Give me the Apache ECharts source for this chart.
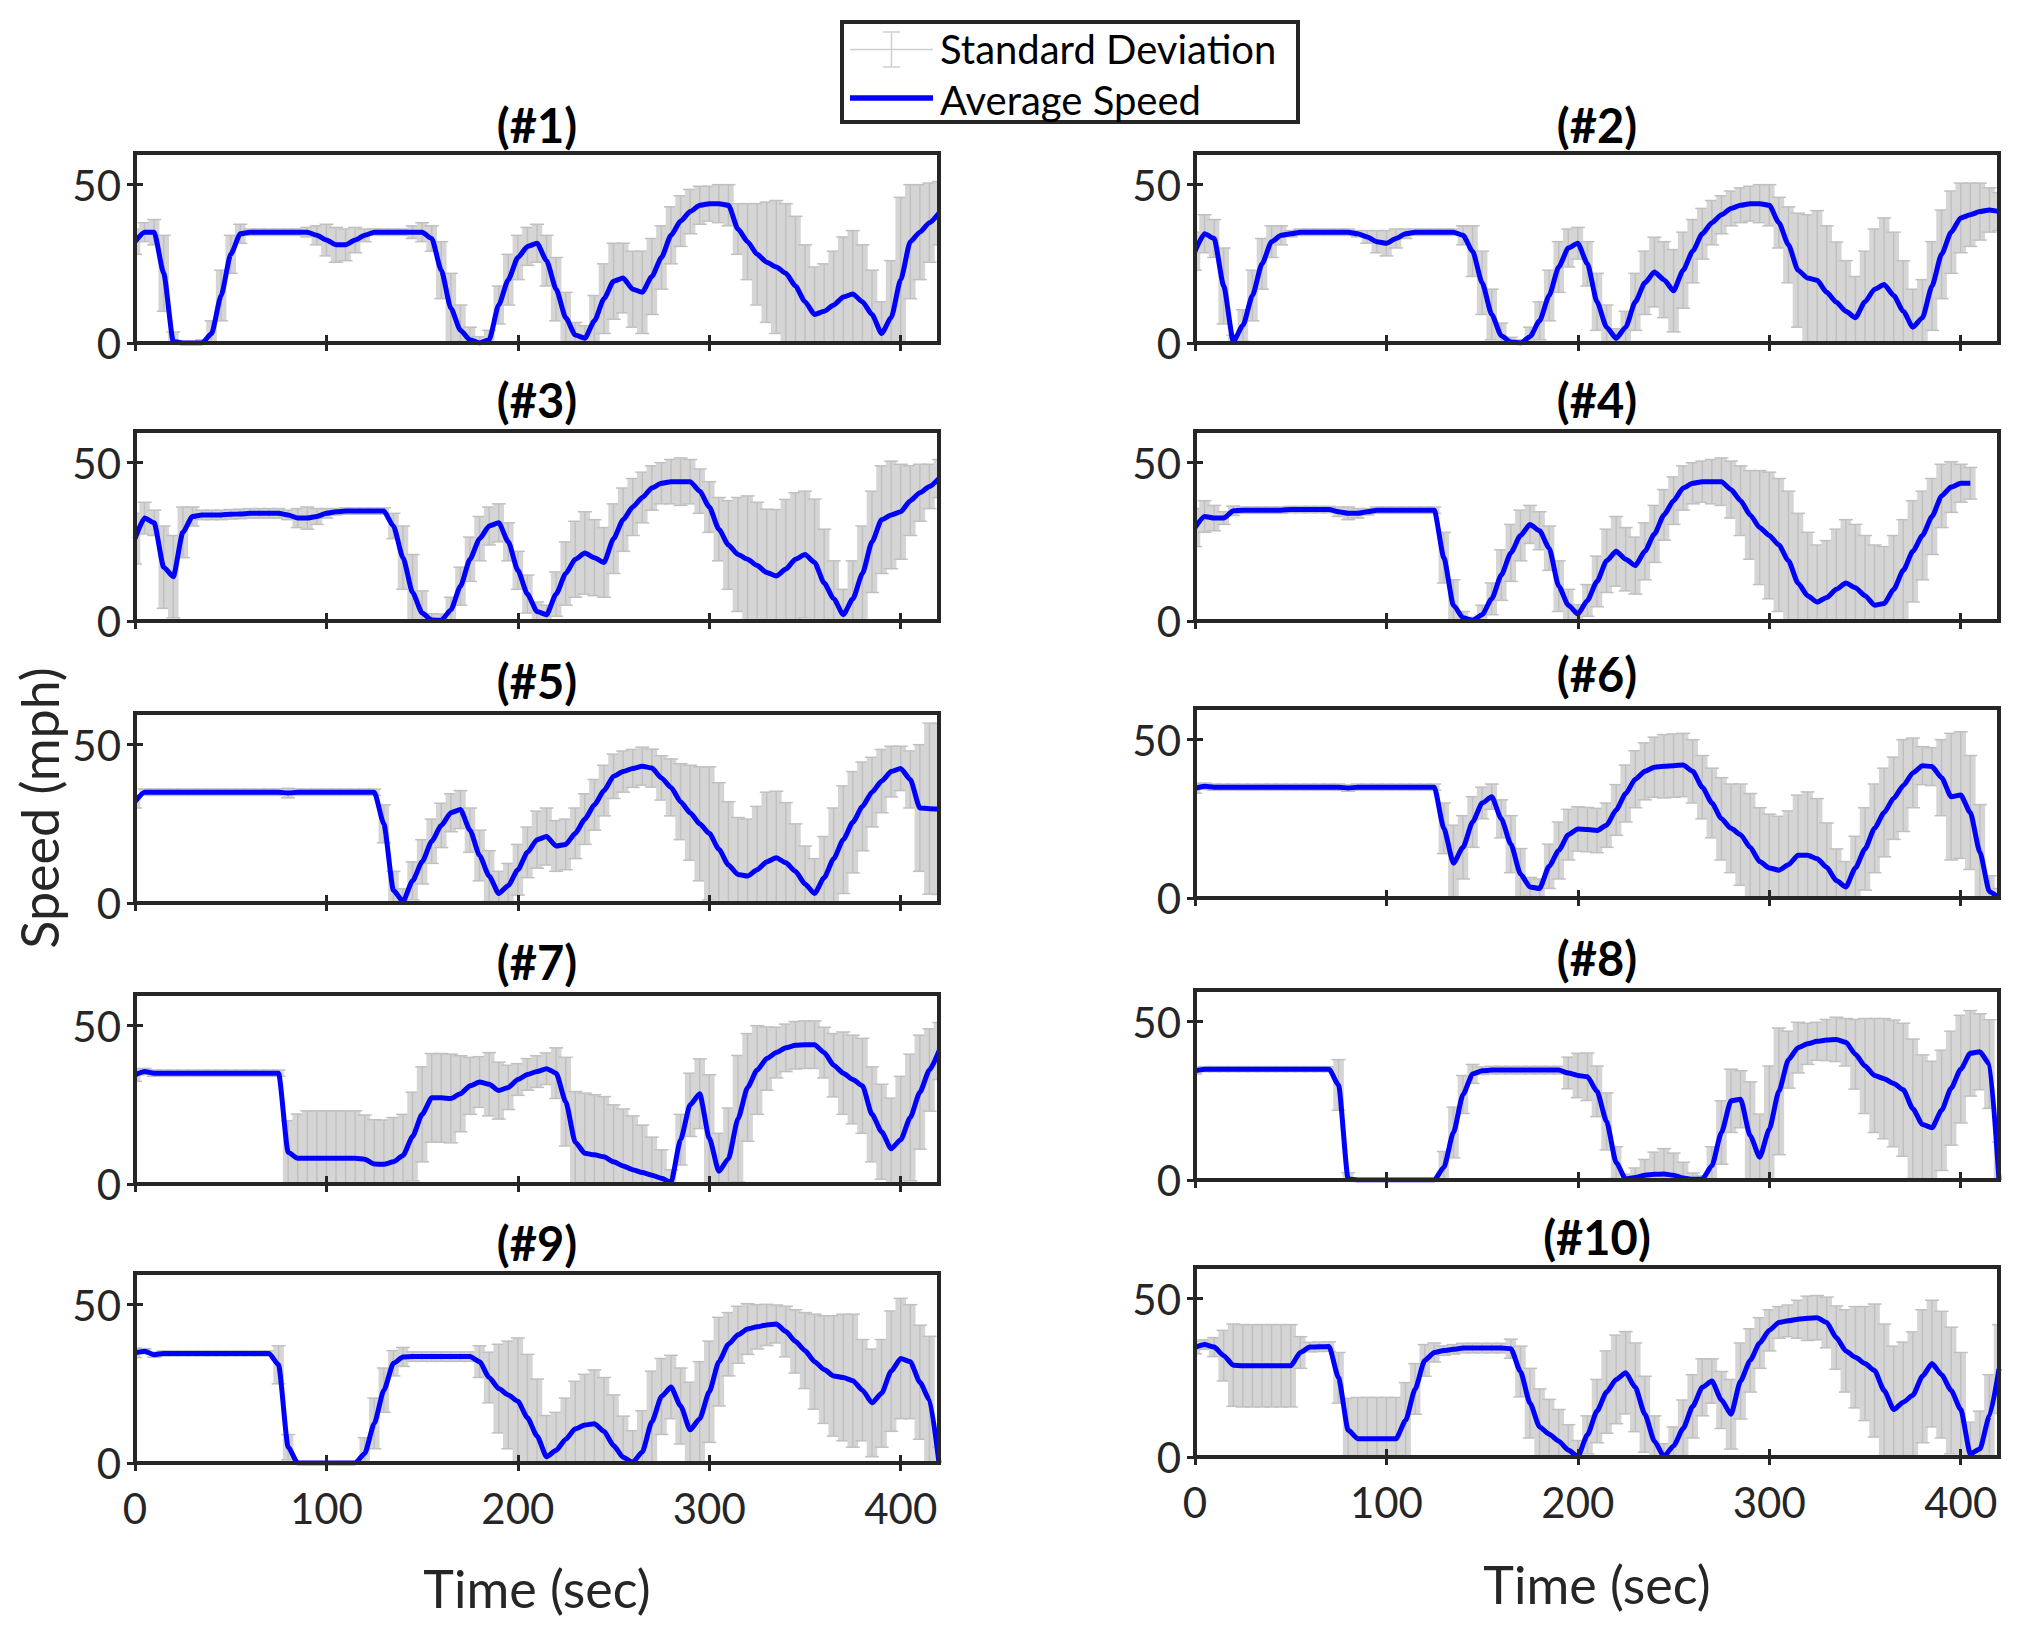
<!DOCTYPE html>
<html>
<head>
<meta charset="utf-8">
<script src="https://cdn.jsdelivr.net/npm/echarts@6.0.0/dist/echarts.min.js"></script>
<style>
html,body{margin:0;padding:0;background:#ffffff;}
#chart{width:2030px;height:1634px;}
</style>
</head>
<body>
<div id="chart"></div>
<script>
// ---------------- DATA ----------------
const TIME = [0,5,10,15,20,25,30,35,40,45,50,55,60,65,70,75,80,85,90,95,100,105,110,115,120,125,130,135,140,145,150,155,160,165,170,175,180,185,190,195,200,205,210,215,220,225,230,235,240,245,250,255,260,265,270,275,280,285,290,295,300,305,310,315,320,325,330,335,340,345,350,355,360,365,370,375,380,385,390,395,400,405,410,415,420];
const X_TICKS = [0,100,200,300,400];
const Y_TICKS = [0,50];
const TITLES = ['(#1)','(#2)','(#3)','(#4)','(#5)','(#6)','(#7)','(#8)','(#9)','(#10)'];
const LEGEND_LABELS = ['Standard Deviation','Average Speed'];
const X_NAME = 'Time (sec)';
const Y_NAME = 'Speed (mph)';

const mean1 = [32,35,35,22,0.5,0,0,0,3,15, 28,34.5,35,35,35,35,35,35,35,34, 32.5,31,31,32.5,34,35,35,35,35,35, 35,33,23,11,4,1,0,1,12,20, 27,30.5,31.5,26,17,8,2.5,1.5,7,14, 19.5,20.5,17,16,21,27,34,38.5,41.5,43.5, 44,44,43.5,36,32,28,25.5,24,22,18, 13,9,10,12,14.5,15.5,13,9,3,8, 20,32,35,38,41];
const sd1 = [4,3,4,12,3,0.5,0.5,1,4,8, 6,3,1,1,1,1,1,1,1.5,3, 5,5.5,5,4,2,1,1,1,1,2, 3,4,9,11,8,4,2,3,6,8, 7,6,6,8,10,8,4,4,8,11, 12,11,12,13,12,10,9,8,7,6, 5.5,6,6.5,8,12,16,19,21,22,22, 18,15,15,17,19,20,18,14,10,18, 26,18,15,12.5,10];

const mean2 = [29,34.5,33,18,0.5,5.5,15,25,32,34, 34.5,35,35,35,35,35,35,34.5,33.5,32, 31.5,33,34.5,35,35,35,35,35,34,29, 19,9,2.3,0.3,0,2,7,15,24,30, 31.5,25,13,5,1.5,5,13,19,22.4,20, 16.5,23,29,34.5,38,40.5,42.5,43.5,44,44, 43.5,38,31,23,20.5,19.8,16,12.9,10,8, 13,17,18.5,15,10,5,8,18,28,35, 39.5,40.5,41.5,42,41.5];
const sd2 = [6,6,6,12,2,5,8,8,5,3, 1,1,1,1,1,1,1,1,2,3.5, 4,3,1.5,1,1,1,1,1,3,8, 10,8,4,1.5,1,3,6,8,8,6, 5,7,9,7,3,5,9,10,11,12, 13,12,10,8,7,6,5.5,5.5,5.5,6, 6.5,8,12,18,20,22,21,19,16,13, 16,19,21,20,16,12,12,14,14,13, 11,10,9,7,6];

const mean3 = [26,32.5,31,17,14,28,33,33.5,33.5,33.5, 33.7,33.8,34,34,34,34,33.5,32.5,32.5,33, 34,34.5,34.7,34.7,34.7,34.7,34.7,30,20,9, 2.5,0.3,0.2,3.5,11,19.5,26,30,31,25, 16,8.5,3,2,8.5,15,19.5,21.5,20,18.5, 26,32,36,39,42,43.5,44,44,44,41, 36,29,24,21,19.5,17.5,15.3,14.2,16.4,19.5, 21,18.5,12,7,2,7,15,25,32,33.5, 34.5,38,40.5,42.5,45];
const sd3 = [8,5,4,13,13,8,3,1.5,1.5,1.5, 1.5,1.5,1.5,1.5,1.5,1.5,1.5,3,3.5,2.5, 1.5,1,1,1,1,1,1,4,10,12, 7,2,2,4,6,7,7,6,6,6, 6,6,3,3,7,10,12,13,12,11, 11,10,9,8,7,6.5,7,7.5,7,7, 8,10,14,18,20,20,20,21,22,21, 20,20,17,12,8,12,15,16,17,17, 15,11,9,7,6];

const mean4 = [29.5,33,32.5,32.5,34.8,35,35,35,35,35, 35.2,35.2,35.2,35.2,35.2,34.5,34,34,34.5,35, 35,35,35,35,35,35,20,5,1,0.2, 2,7,14.5,21.5,27,30.5,28.5,23,11,5, 2.2,6.5,12.5,19,22,19.5,17.5,22,27.5,33.5, 38,42,43.5,44,44,44,41.5,38,33.5,29.5, 27,24,19,12,8,6,7.4,10,12,10.5, 8,5,5.5,10,16,22,27,33,39.5,42.3, 43.5,43.5,null,null,null];
const sd4 = [6,5,4,2,1.5,1,1,1,1,1, 1,1,1,1,1,1.5,2,1.5,1,1, 1,1,1,1,1,1,8,8,2,1, 3,5,8,9,8,6,6,7,8,5, 3,5,8,10,11,10,9,9,9,8, 7.5,7,6.5,6.5,7,7.5,9,11,14,18, 20,21,22,22,20,18,18,19,20,20, 19,19,18,17,16,16,14,12,10,8, 6,5,null,null,null];

const mean5 = [32,35,35,35,35,35,35,35,35,35, 35,35,35,35,35,35,34.7,35,35,35, 35,35,35,35,35,35,25,4,0.5,7, 13,19.5,24.5,28.5,29.5,23,15,8.5,3,5.5, 10.5,16,20,21,18,18.5,22,26.5,31,35.5, 40,41.5,42.5,43.2,42.6,39.5,36.5,32,28.5,25, 22,17,12,9,8.5,10.5,13,14.3,12.7,10, 6,3,8,14,20,25.5,30.5,35,38.5,41.5, 42.5,39,30,29.8,29.7];
const sd5 = [2,1,1,1,1,1,1,1,1,1, 1,1,1,1,1,1,1.5,1,1,1, 1,1,1,1,1,1,6,6,4,6, 7,7,7,6,6,7,8,8,7,7, 8,8,9,9,8,8,8,8,8,8, 7,6.5,6,6,6,7,9,12,15,18, 21,21,20,18,18,20,22,21,19,15, 12,11,13,16,17,16,14,11,10,8, 7,9,20,27,27];

const mean6 = [34.6,35.3,35,35,35,35,35,35,35,35, 35,35,35,35,35,35,34.7,35,35,35, 35,35,35,35,35,35,22,11,16,24, 30,32,25,17,7.6,3.5,3,10,15,20, 21.8,21.6,21.3,23,27.8,33,37.5,40,41.3,41.6, 41.8,42,40,35,30,25,22,20,16,11.5, 9.5,8.8,10.5,13.5,13.5,12.4,9.7,5.5,3.5,9.5, 15.5,22,27,31.5,35.5,39.5,41.8,41.5,38,32, 32.5,27,14.5,2,0];
const sd6 = [1.5,1,1,1,1,1,1,1,1,1, 1,1,1,1,1,1,1,1,1,1, 1,1,1,1,1,1,8,12,10,8, 5,4,6,9,8,3,3,7,9,8, 7,7,7,7,8,9,9,9,9.5,10, 10,10,10,10,11,13,14,16,17,17, 17,17,17,19,20,19,14,10,8,10, 13,14,14,13,14.5,11,6,6,12,20, 20,18,15,5,3];

const mean7 = [34.4,35.5,35,35,35,35,35,35,35,35, 35,35,35,35,35,35,10,8.1,8.1,8.1, 8.1,8.1,8.1,8.1,7.8,6.3,6.2,7,9,15, 22,27.2,27.2,27,28.5,31,32.2,31.5,29.5,30.5, 33,34.6,35.5,36.4,35,26,13.2,9.7,9.2,8.6, 7,5.7,4.5,3.6,2.8,1.8,0.5,14,25,28.5, 14.5,4,8,20.6,30.5,36,39.6,41.5,43,43.8, 44,44,41.5,37.5,35,33,31,22,16.5,11.1, 14,21,29,36,42];
const sd7 = [2,1,1,1,1,1,1,1,1,1, 1,1,1,1,1,1,10,14,15,15, 15,15,15,15,14,14,14,14,13,14, 15,14,14,14,12,9,8,10,9,7, 5,5,5,5,8,14,16,19,19,19, 18,18,17,15,12,9,4,8,10,11, 20,12,16,20,17,14,10,8,7.5,7.5, 7.5,7.5,8,10,13,14,15,15,15,16, 20,20,18,13,9];

const mean8 = [34.5,35,35,35,35,35,35,35,35,35, 35,35,35,35,35,30,0.3,0,0,0, 0,0,0,0,0,0,4,15,27,33.5, 34.5,34.7,34.7,34.7,34.7,34.7,34.7,34.7,34.7,33.8, 33,32.6,28,18.5,5.5,0.3,0.8,1.5,1.8,1.9, 1.5,0.6,0.2,0.3,4.5,15,25,25.5,14,7.2, 16,28,38,41.8,43,43.8,44.2,44.4,43.5,39.7, 36,33,32,30.5,28.5,22.5,17.5,16.5,22,29, 35,40,40.5,36.6,0];
const sd8 = [1,0.8,0.8,0.8,0.8,0.8,0.8,0.8,0.8,0.8, 0.8,0.8,0.8,0.8,0.8,8,2,0.3,0.3,0.3, 0.3,0.3,0.3,0.3,0.3,0.3,5,8,6,3, 1.2,1.2,1.2,1.2,1.2,1.2,1.2,1.2,1.2,5, 7,7.5,8,9,5,1.5,3,5,7,8, 7,5,2,1,6,10,10,9,17,13.6, 20,20,9,8,6.5,6,6.5,7,7.5,11, 15,18,19,20,21,22,22,21,19,18, 17,13.5,12,14,12];

const mean9 = [34.8,35.3,34.2,34.6,34.6,34.6,34.6,34.6,34.6,34.6, 34.6,34.6,34.6,34.6,34.6,31,5,0,0,0, 0,0,0,0,3,12.5,23,31.5,33.5,33.6, 33.6,33.6,33.6,33.6,33.6,33.6,32,27,23.5,21.5, 19.5,14.3,8.5,2,4,7.5,10.8,12,12.4,10, 5.5,1.8,0.2,3.5,13,21,24,18,10.5,14, 22.5,32,37.5,40.5,42.3,43,43.6,43.9,41.5,38.4, 35.5,32,29.5,27.5,27,26,23,19,22,29, 33,32,25.5,20,0];
const sd9 = [1.5,0.8,0.8,0.8,0.8,0.8,0.8,0.8,0.8,0.8, 0.8,0.8,0.8,0.8,0.8,6,4,0.3,0.3,0.3, 0.3,0.3,0.3,0.3,5,8,7,4,3,1.5, 1.5,1.5,1.5,1.5,1.5,1.5,5,8,14,17, 20,20,18,13,12,13,15,16,17,17, 16,13,10,13,16,12,10,12,15,18, 16,14,10,9,8,7,6.5,6,8,10, 12,15,17,19,20,21,16,17,17,19, 19,18,18,20,5];

const mean10 = [34.6,35.5,34.7,32,29,28.8,28.8,28.8,28.8,28.8, 28.8,33,34.7,34.8,34.9,25,8.5,5.8,5.8,5.8, 5.8,5.8,11.5,21.5,30.5,33,33.6,34,34.4,34.4, 34.4,34.4,34.4,34.2,27,17,9.5,7.2,5,2.2, 0.2,7,14.5,20.5,24.5,26.6,22,13.5,5,0.2, 3.5,9,16,22,24,18,13.5,24,30.5,36, 40,42.5,43,43.5,43.8,44,42.5,37.7,33.5,31.5, 29.5,27.3,21,15,17.3,19.5,25.5,29.5,26,21, 15,1,2.5,13,27.8];
const sd10 = [2,1.5,3,8,13,13,13,13,13,13, 13,5,1.5,1.5,1.5,8,10,13,13,13, 13,13,12,8,5,3,1.5,1.5,1.5,1.5, 1.5,1.5,1.5,3,8,11,12,11,10,8, 5,6,10,13,14,13,14,12,8,4, 6,9,10,9,7,9,11,12,10,8, 6.5,5,5,6,7,7,8,10,13,16, 18,21,21,20,19,20,21,20,20,20, 18,10,12,13,14];

const MEANS = [mean1,mean2,mean3,mean4,mean5,mean6,mean7,mean8,mean9,mean10];
const SDS = [sd1,sd2,sd3,sd4,sd5,sd6,sd7,sd8,sd9,sd10];

// ---------------- LAYOUT / STYLE ----------------
const FONT = "Lato, 'Open Sans', 'Noto Sans', sans-serif";
const TXT = '#262626';
const FRAME = '#262626';
const BAND_FILL = '#d5d5d5';
const BAR_COLOR = '#c0c0c0';
const LINE_BLUE = '#0000ff';
const CAP = 7;
const LEFTS = [135, 1195];
const PW = 804, PH = 190;
const TOPS = [[153, 431, 713, 994, 1273], [153, 431, 708, 990, 1267]];
const TITLE_Y = [[125, 400, 681, 962, 1243], [125, 400, 674, 958, 1237]];
const SAMPLE_STEP = TIME[1] - TIME[0];

function renderErrorBar(params, api) {
  const lo = api.value(1), hi = api.value(2);
  if (isNaN(lo) || isNaN(hi)) return null;
  const t = api.value(0);
  const pTop = api.coord([t, hi]);
  const pBot = api.coord([t, lo]);
  const w = api.size([SAMPLE_STEP, 0])[0];
  const x = pTop[0];
  return {
    type: 'group',
    children: [
      {type: 'rect', shape: {x: x - w / 2 - 0.5, y: pTop[1], width: w + 1, height: pBot[1] - pTop[1]}, style: {fill: BAND_FILL}},
      {type: 'line', shape: {x1: x, y1: pTop[1], x2: x, y2: pBot[1]}, style: {stroke: BAR_COLOR, lineWidth: 1.5}},
      {type: 'line', shape: {x1: x - CAP, y1: pTop[1], x2: x + CAP, y2: pTop[1]}, style: {stroke: BAR_COLOR, lineWidth: 1.5}},
      {type: 'line', shape: {x1: x - CAP, y1: pBot[1], x2: x + CAP, y2: pBot[1]}, style: {stroke: BAR_COLOR, lineWidth: 1.5}}
    ]
  };
}

const grids = [], xAxes = [], yAxes = [], series = [], graphics = [];

for (let i = 0; i < 10; i++) {
  const col = i % 2, row = Math.floor(i / 2);
  const left = LEFTS[col], top = TOPS[col][row];
  grids.push({
    left: left, top: top, width: PW, height: PH,
    show: true, borderWidth: 4, borderColor: FRAME, backgroundColor: 'rgba(0,0,0,0)',
    z: 5, outerBoundsMode: 'none', containLabel: false
  });
  const tickStyle = {color: FRAME, width: 3};
  const xBase = {
    gridIndex: i, type: 'value', min: 0, max: 420, z: 6,
    axisLine: {show: false}, splitLine: {show: false},
    axisTick: {show: true, inside: true, length: 8, customValues: X_TICKS, lineStyle: tickStyle}
  };
  xAxes.push(Object.assign({}, xBase, {
    position: 'bottom',
    axisLabel: {show: row === 4, customValues: X_TICKS, fontFamily: FONT, fontSize: 42, color: TXT, margin: 24}
  }));
  xAxes.push(Object.assign({}, xBase, {position: 'top', axisLabel: {show: false}}));
  const yBase = {
    gridIndex: i, type: 'value', min: 0, max: 60, z: 6,
    axisLine: {show: false}, splitLine: {show: false},
    axisTick: {show: true, inside: true, length: 8, customValues: Y_TICKS, lineStyle: tickStyle}
  };
  yAxes.push(Object.assign({}, yBase, {
    position: 'left',
    axisLabel: {show: true, customValues: Y_TICKS, fontFamily: FONT, fontSize: 42, color: TXT, margin: 14}
  }));
  yAxes.push(Object.assign({}, yBase, {position: 'right', axisLabel: {show: false}}));

  const m = MEANS[i], s = SDS[i];
  series.push({
    type: 'custom', name: LEGEND_LABELS[0],
    xAxisIndex: 2 * i, yAxisIndex: 2 * i,
    clip: true, silent: true, z: 1,
    renderItem: renderErrorBar,
    encode: {x: 0, y: [1, 2]},
    data: TIME.map((t, k) => (m[k] == null ? [t, null, null] : [t, m[k] - s[k], m[k] + s[k]]))
  });
  series.push({
    type: 'line', name: LEGEND_LABELS[1],
    xAxisIndex: 2 * i, yAxisIndex: 2 * i,
    showSymbol: false, symbol: 'none', silent: true, z: 3,
    smooth: 0.2, smoothMonotone: 'x',
    lineStyle: {color: LINE_BLUE, width: 5},
    data: TIME.map((t, k) => [t, m[k]])
  });

  graphics.push({
    type: 'text', x: left + PW / 2, y: TITLE_Y[col][row], z: 20,
    style: {text: TITLES[i], fontFamily: FONT, fontSize: 47, fontWeight: 'bold', fill: '#000000', align: 'center', verticalAlign: 'middle'}
  });
}

// axis names
graphics.push({
  type: 'text', x: 39, y: 808, rotation: Math.PI / 2, z: 20,
  style: {text: Y_NAME, fontFamily: FONT, fontSize: 52, fill: TXT, align: 'center', verticalAlign: 'middle'}
});
graphics.push({
  type: 'text', x: LEFTS[0] + PW / 2, y: 1588, z: 20,
  style: {text: X_NAME, fontFamily: FONT, fontSize: 52, fill: TXT, align: 'center', verticalAlign: 'middle'}
});
graphics.push({
  type: 'text', x: LEFTS[1] + PW / 2, y: 1584, z: 20,
  style: {text: X_NAME, fontFamily: FONT, fontSize: 52, fill: TXT, align: 'center', verticalAlign: 'middle'}
});

// legend box
graphics.push({type: 'rect', shape: {x: 842, y: 22, width: 456, height: 100}, z: 20, style: {fill: '#ffffff', stroke: FRAME, lineWidth: 4}});
graphics.push({type: 'line', shape: {x1: 850, y1: 49.5, x2: 933, y2: 49.5}, z: 21, style: {stroke: '#cfcfcf', lineWidth: 1.5}});
graphics.push({type: 'line', shape: {x1: 891.5, y1: 32, x2: 891.5, y2: 67}, z: 21, style: {stroke: '#cfcfcf', lineWidth: 1.5}});
graphics.push({type: 'line', shape: {x1: 883, y1: 32, x2: 900, y2: 32}, z: 21, style: {stroke: '#cfcfcf', lineWidth: 1.5}});
graphics.push({type: 'line', shape: {x1: 883, y1: 67, x2: 900, y2: 67}, z: 21, style: {stroke: '#cfcfcf', lineWidth: 1.5}});
graphics.push({type: 'line', shape: {x1: 850, y1: 98, x2: 933, y2: 98}, z: 21, style: {stroke: LINE_BLUE, lineWidth: 5.5}});
graphics.push({type: 'text', x: 940, y: 49, z: 21, style: {text: LEGEND_LABELS[0], fontFamily: FONT, fontSize: 40, fill: '#000000', align: 'left', verticalAlign: 'middle'}});
graphics.push({type: 'text', x: 940, y: 100, z: 21, style: {text: LEGEND_LABELS[1], fontFamily: FONT, fontSize: 40, fill: '#000000', align: 'left', verticalAlign: 'middle'}});

const chart = echarts.init(document.getElementById('chart'), null, {renderer: 'svg', width: 2030, height: 1634});
chart.setOption({
  animation: false,
  backgroundColor: '#ffffff',
  grid: grids,
  xAxis: xAxes,
  yAxis: yAxes,
  series: series,
  graphic: {elements: graphics}
});
</script>
</body>
</html>
